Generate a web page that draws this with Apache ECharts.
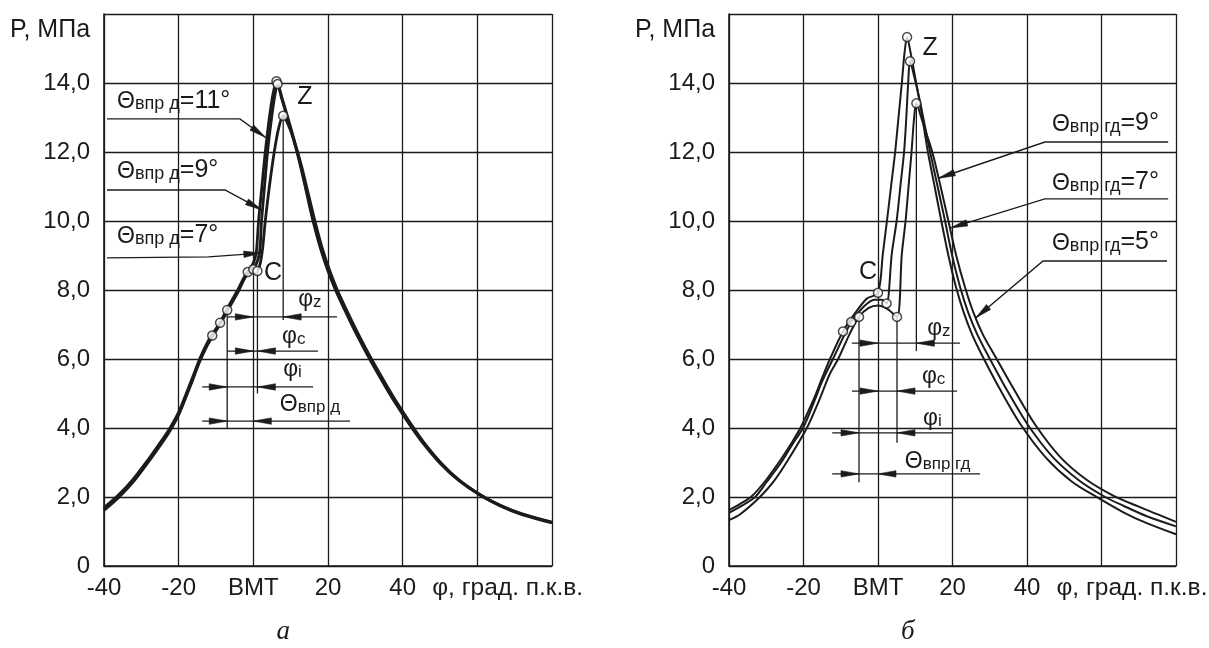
<!DOCTYPE html>
<html><head><meta charset="utf-8">
<script src="https://cdn.jsdelivr.net/npm/echarts@6/dist/echarts.min.js"></script>
<style>html,body{margin:0;padding:0;background:#fff}#c{width:1209px;height:648px}</style>
</head><body><div id="c"></div><script>
// ---------- DATA ----------
const xMin = -40, xMax = 80, xStep = 20;
const yMin = 0, yMax = 16, yStep = 2;
const xLabelTDC = 'ВМТ';
const xAxisTitle = 'φ, град. п.к.в.';
const yAxisTitle = 'P, МПа';
const panelTitles = ['а', 'б'];

// panel a: Θвпр д = 11°, 9°, 7°
const aPhi11 = [-40,-36,-32,-28,-24,-22,-20,-18,-16,-14.3,-12.5,-11,-9,-7,-4,-1.5,0,0.8,1.4,2.3,3.2,4.3,5.3,6.2,7.6,9.1,10.8,12.5,14.2,16,18,20,22,25,28,31.3,35,38,41.5,45,50,55,60.8,66,72,80];
const aP11   = [1.65,2.03,2.5,3.07,3.68,4.02,4.42,4.95,5.5,5.98,6.4,6.68,7.03,7.42,8.0,8.52,8.78,9.1,10.0,11.0,12.0,13.0,13.7,14.05,13.55,13.0,12.35,11.65,10.85,10.0,9.2,8.55,8.0,7.3,6.64,5.97,5.27,4.73,4.15,3.62,2.98,2.48,2.05,1.76,1.5,1.26];
const aPhi9  = [-40,-36,-32,-28,-24,-22,-20,-18,-16,-14.3,-12.5,-11,-8.9,-7,-4,-1.5,0,1.6,2.2,3.0,3.8,4.9,5.7,6.5,7.6,9.1,10.8,12.5,14.2,16,18,20,22,25,28,31.3,35,38,41.5,45,50,55,60.8,66,72,80];
const aP9    = [1.69,2.07,2.54,3.11,3.72,4.06,4.46,4.99,5.54,6.02,6.44,6.72,7.05,7.46,8.04,8.54,8.6,9.05,10.0,11.0,12.0,13.0,13.6,13.97,13.6,13.05,12.4,11.7,10.9,10.05,9.25,8.6,8.05,7.35,6.69,6.02,5.32,4.78,4.2,3.66,3.01,2.5,2.07,1.77,1.51,1.27];
const aPhi7  = [-40,-36,-32,-28,-24,-22,-20,-18,-16,-14.3,-12.5,-11,-9,-7,-4,-1.5,1.1,2.3,3.2,4.3,5.6,6.8,8.0,9.5,11,12.9,14.7,16.5,18.5,20.5,22.5,25.5,28.5,31.8,35.5,38.5,42,45.4,50.3,55.2,60.9,66,72,80];
const aP7    = [1.61,1.99,2.46,3.03,3.64,3.98,4.38,4.91,5.46,5.94,6.36,6.64,6.99,7.38,7.96,8.48,8.55,9.05,10.0,11.0,12.0,12.7,13.05,12.75,12.3,11.6,10.8,10.0,9.2,8.55,8.0,7.3,6.64,5.97,5.27,4.73,4.15,3.62,2.98,2.48,2.05,1.75,1.49,1.25];
const aInj   = [[-11,6.68],[-8.9,7.05],[-7,7.42]];
const aC     = [[-1.5,8.52],[0,8.6],[1.1,8.55]];
const aZ     = [[6.2,14.05],[6.5,13.97],[8.0,13.05]];

// panel б: Θвпр гд = 9°, 7°, 5°
const bPhi9 = [-40,-37,-33.9,-30,-26,-23,-20.6,-17,-15,-12.9,-9.4,-6,-3,0,1.3,2.4,3.5,4.6,5.5,6.4,7.1,7.8,8.8,10.0,11.6,13.4,15.2,17.0,18.9,20.9,23.0,25.3,28.2,32.6,38.3,45,52,59,66,72,80];
const bP9   = [1.62,1.8,2.02,2.5,3.1,3.6,4.05,4.9,5.45,6.0,6.8,7.35,7.75,7.92,9.05,10.0,11.0,12.0,13.0,14.0,14.85,15.33,14.85,14.15,13.2,12.0,11.0,10.0,9.0,8.1,7.35,6.7,6.05,5.15,4.1,3.15,2.45,1.98,1.55,1.25,0.92];
const bPhi7 = [-40,-37,-33,-30,-26,-23,-20,-17,-15,-12.1,-7.2,-4,-1,1,2.3,3.7,5.0,6.0,7.0,7.6,8.1,8.6,9.8,11.2,12.6,14.0,16.0,18.0,19.9,22.0,24.2,26.7,29.8,34.6,40.3,47,54,61,66,72,80];
const bP7   = [1.54,1.72,2.0,2.42,3.0,3.52,4.03,4.8,5.35,6.0,7.07,7.5,7.72,7.72,7.61,9.05,10.0,11.0,12.0,13.0,14.0,14.63,14.15,13.5,12.75,12.0,11.0,10.0,9.0,8.1,7.35,6.7,6.05,5.1,4.08,3.15,2.48,2.0,1.74,1.45,1.15];
const bPhi5 = [-40,-37,-31.7,-28,-24,-19.1,-16,-13,-10.7,-7.5,-5.1,-2.5,0,2.5,5.1,6.4,7.4,8.2,9.0,9.7,10.3,11.6,13.1,14.7,16.8,18.9,21.0,23.3,25.6,28.2,31.6,36.6,42.3,49,56,63,70,80];
const bP5   = [1.33,1.5,2.0,2.45,3.1,4.0,4.75,5.55,6.0,6.75,7.22,7.48,7.55,7.45,7.22,9.05,10.0,11.0,12.0,13.0,13.41,13.0,12.5,11.95,11.0,10.0,9.0,8.1,7.35,6.7,6.05,5.1,4.08,3.15,2.5,2.05,1.72,1.28];
const bInj  = [[-9.4,6.8],[-7.2,7.07],[-5.1,7.22]];
const bC    = [[0,7.92],[2.3,7.61],[5.1,7.22]];
const bZ    = [[7.8,15.33],[8.6,14.63],[10.3,13.41]];

// annotation texts and anchor values (data units)
const aLegendVals = ['11°','9°','7°'];
const bLegendVals = ['9°','7°','5°'];
const aLegendPos = [[-36.5,13.5],[-36.5,11.48],[-36.5,9.6]];
const aLeaders = [
  [[-39.2,12.96],[-3.6,12.96],[3.3,12.42]],
  [[-39.2,10.9],[-7.6,10.9],[2.3,10.32]],
  [[-39.2,8.93],[-12,8.96],[2.0,9.07]]
];
const bLegendPos = [[46.7,12.84],[46.7,11.13],[46.7,9.39]];
const bLeaders = [
  [[77.9,12.29],[44.8,12.29],[16.2,11.24]],
  [[77.9,10.64],[44.8,10.64],[19.5,9.8]],
  [[77.6,8.84],[44.3,8.84],[26.2,7.19]]
];
// dimension lines: [P, phiFrom, phiTo, arrow tip pointing right, arrow tip pointing left]
const aDims = [[7.22,-7,22.4,0,8.0],[6.23,-7,17.3,0,1.1],[5.19,-13.7,16.0,-7,1.1],[4.2,-13.7,25.9,-7,0]];
const aExt  = [[-7,7.42,4.0],[1.1,8.55,5.0],[8.0,13.05,7.13]];
const aDimLabels = [['φ','z',[12.0,7.77]],['φ','c',[7.7,6.7]],['φ','i',[8.0,5.74]],['Θ','впр д',[7.1,4.72]]];
const bDims = [[6.46,-7,22.0,0,10.3],[5.07,-7,21.2,0,5.1],[3.86,-12.3,20.1,-5.1,5.1],[2.67,-12.3,27.4,-5.1,0]];
const bExt  = [[-5.1,7.22,2.43],[5.1,7.22,3.57],[10.3,13.41,6.23]];
const bDimLabels = [['φ','z',[13.2,6.93]],['φ','c',[11.8,5.54]],['φ','i',[12.1,4.32]],['Θ','впр гд',[7.2,3.07]]];
const aPointLabels = [['Z',[13.8,13.6]],['C',[5.3,8.49]]];
const bPointLabels = [['Z',[14.0,15.0]],['C',[-2.7,8.52]]];

// ---------- CHART ----------
const INK = '#1b1b1b';
const FONT = '"Liberation Sans", Arial, sans-serif';
const chart = echarts.init(document.getElementById('c'));
const pairs = (xs, ys) => xs.map((x, i) => [x, ys[i]]);

function xAx(i) {
  return {
    type: 'value', gridIndex: i, min: xMin, max: xMax, interval: xStep,
    axisLine: {show: true, onZero: false, lineStyle: {color: INK, width: 1.6}},
    axisTick: {show: false},
    splitLine: {show: true, lineStyle: {color: INK, width: 1.3}},
    axisLabel: {margin: 10, fontSize: 24, fontFamily: FONT, color: INK,
      formatter: v => v === 0 ? xLabelTDC : (v >= 60 ? '' : String(v))}
  };
}
function yAx(i) {
  return {
    type: 'value', gridIndex: i, min: yMin, max: yMax, interval: yStep,
    axisLine: {show: true, onZero: false, lineStyle: {color: INK, width: 1.6}},
    axisTick: {show: false},
    splitLine: {show: true, lineStyle: {color: INK, width: 1.3}},
    axisLabel: {margin: 14, fontSize: 24, fontFamily: FONT, color: INK,
      formatter: v => v === 0 ? '0' : (v === yMax ? '' : v.toFixed(1).replace('.', ','))}
  };
}
function curve(i, xs, ys, w) {
  return {type: 'line', xAxisIndex: i, yAxisIndex: i, data: pairs(xs, ys), symbol: 'none',
    smooth: 0.3, lineStyle: {color: INK, width: w}, z: 3, silent: true};
}
function dots(i, pts) {
  return {type: 'scatter', xAxisIndex: i, yAxisIndex: i, data: pts, symbol: 'circle', symbolSize: 9,
    itemStyle: {color: '#fff', borderColor: INK, borderWidth: 1.5}, z: 6, silent: true};
}

chart.setOption({
  animation: false,
  backgroundColor: '#fff',
  grid: [
    {left: 104, top: 14, width: 448, height: 552},
    {left: 729, top: 14, width: 447, height: 552}
  ],
  xAxis: [xAx(0), xAx(1)],
  yAxis: [yAx(0), yAx(1)],
  series: [
    curve(0, aPhi11, aP11, 2.8), curve(0, aPhi9, aP9, 2.8), curve(0, aPhi7, aP7, 2.8),
    curve(1, bPhi9, bP9, 2.0), curve(1, bPhi7, bP7, 2.0), curve(1, bPhi5, bP5, 2.0),
    dots(0, aInj.concat(aC, aZ)), dots(1, bInj.concat(bC, bZ))
  ]
});

// ---------- annotations placed through the chart's own scales ----------
const els = [];
const px = (g, d) => chart.convertToPixel({gridIndex: g}, d);
function poly(g, pts, w) {
  els.push({type: 'polyline', z: 1, silent: true, shape: {points: pts.map(p => px(g, p))},
    style: {stroke: INK, lineWidth: w || 1.4, fill: null}});
}
function head(g, tipD, fromD, len, half) {
  len = len || 18; half = half || 3;
  const t = px(g, tipD), f = px(g, fromD);
  const dx = t[0] - f[0], dy = t[1] - f[1], L = Math.hypot(dx, dy);
  const ux = dx / L, uy = dy / L;
  const bx = t[0] - ux * len, by = t[1] - uy * len;
  els.push({type: 'polygon', z: 1, silent: true,
    shape: {points: [t, [bx - uy * half, by + ux * half], [bx + uy * half, by - ux * half]]},
    style: {fill: INK, stroke: INK, lineWidth: 0.6}});
}
function text(g, d, t, style) {
  const p = px(g, d);
  els.push({type: 'text', z: 10, silent: true, x: p[0], y: p[1],
    style: Object.assign({text: t, fill: INK, fontFamily: FONT, fontSize: 24, align: 'left', verticalAlign: 'middle'}, style || {})});
}
function rich(big, small, rest, sizes) {
  return {
    text: '{a|' + big + '}{b|' + small + '}' + (rest ? '{c|' + rest + '}' : ''),
    rich: {
      a: {fontSize: sizes[0], fontFamily: FONT, fill: INK, lineHeight: 26, verticalAlign: 'bottom'},
      b: {fontSize: sizes[1], fontFamily: FONT, fill: INK, lineHeight: 18, verticalAlign: 'bottom'},
      c: {fontSize: sizes[2], fontFamily: FONT, fill: INK, lineHeight: 26, verticalAlign: 'bottom'}
    }
  };
}
function panel(g, legendVals, legendPos, leaders, dims, ext, dimLabels, pointLabels, sub) {
  legendVals.forEach((v, k) => {
    text(g, legendPos[k], '', rich('Θ', sub, '=' + v, [23, 18, 25]));
  });
  leaders.forEach(L => { poly(g, L, 1.4); head(g, L[L.length - 1], L[L.length - 2], 17, 3.2); });
  ext.forEach(e => poly(g, [[e[0], e[1]], [e[0], e[2]]], 1.3));
  dims.forEach(d => {
    poly(g, [[d[1], d[0]], [d[2], d[0]]], 1.3);
    head(g, [d[3], d[0]], [d[3] - 1, d[0]], 18, 3.2);
    head(g, [d[4], d[0]], [d[4] + 1, d[0]], 18, 3.2);
  });
  dimLabels.forEach(l => text(g, l[2], '', rich(l[0], l[1], '', [23, 17, 23])));
  pointLabels.forEach(l => text(g, l[1], l[0], {fontSize: 25, align: 'center'}));
  text(g, [47.9, -0.64], xAxisTitle, {fontSize: 24.5});
}
panel(0, aLegendVals, aLegendPos, aLeaders, aDims, aExt, aDimLabels, aPointLabels, 'впр д');
panel(1, bLegendVals, bLegendPos, bLeaders, bDims, bExt, bDimLabels, bPointLabels, 'впр гд');

// axis titles and panel captions
[[10, 30], [635, 30]].forEach(p => {
  els.push({type: 'text', z: 10, silent: true, x: p[0], y: p[1],
    style: {text: yAxisTitle, fill: INK, fontFamily: FONT, fontSize: 25, align: 'left', verticalAlign: 'middle'}});
});
[0, 1].forEach(g => {
  const p = px(g, [8.0, -1.92]);
  els.push({type: 'text', z: 10, silent: true, x: p[0], y: p[1],
    style: {text: panelTitles[g], fill: INK, fontFamily: '"Liberation Serif", "Times New Roman", serif',
      fontStyle: 'italic', fontSize: 27, align: 'center', verticalAlign: 'middle'}});
});
chart.setOption({graphic: {elements: els}});
</script></body></html>
